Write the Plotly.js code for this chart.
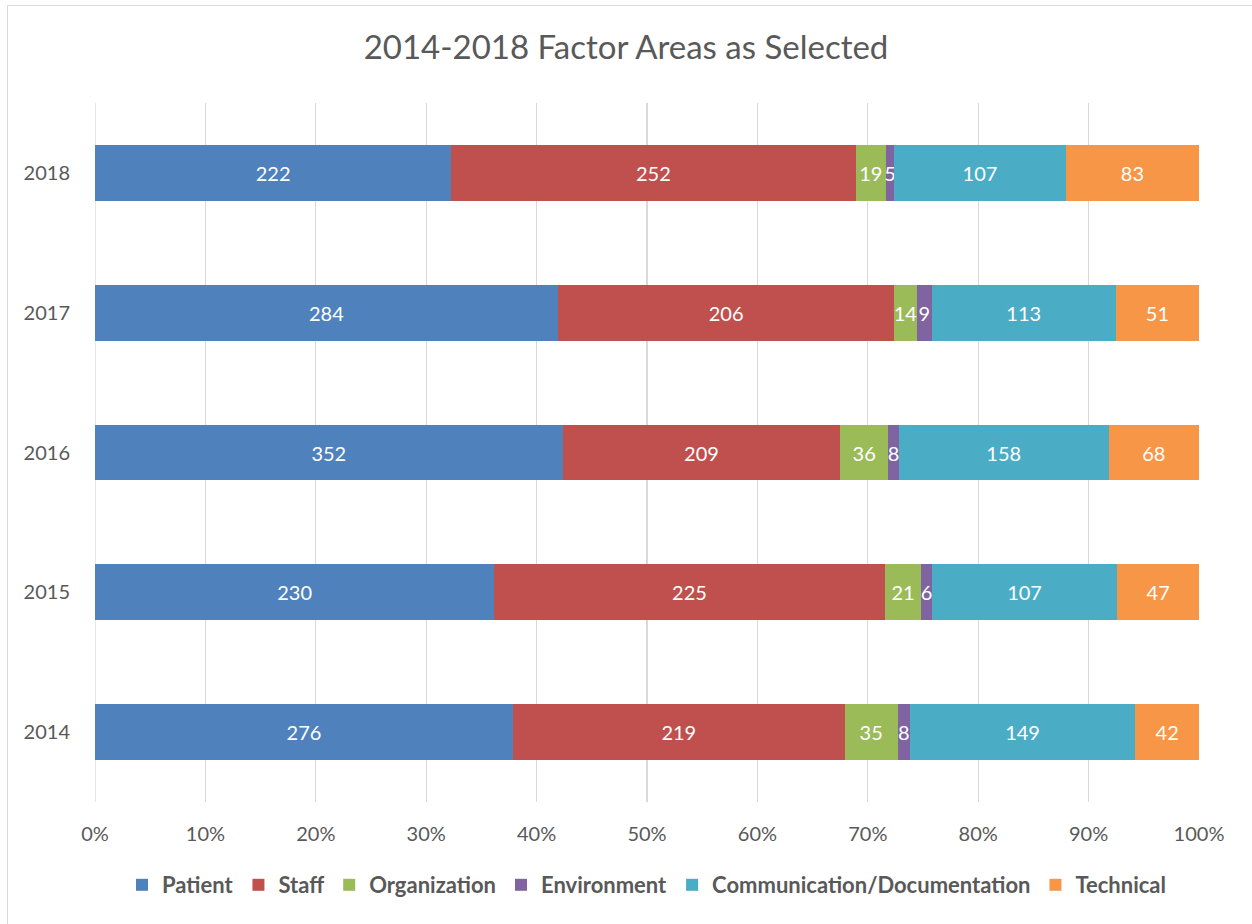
<!DOCTYPE html>
<html>
<head>
<meta charset="utf-8">
<script src="https://cdn.plot.ly/plotly-3.0.1.min.js"></script>
<style>
  html, body { margin: 0; padding: 0; background: #ffffff; }
  #wrap { position: relative; width: 1252px; height: 924px; }
  #chart { position: absolute; left: 0; top: 0; width: 1252px; height: 924px; }
  #frame { position: absolute; left: 7px; top: 5px; width: 1250px; height: 922px; border: 1px solid #D9D9D9; box-sizing: border-box; pointer-events: none; }
</style>
</head>
<body>
<div id="wrap">
  <div id="chart"></div>
  <div id="frame"></div>
</div>
<script>
const years = ['2014', '2015', '2016', '2017', '2018'];
const seriesNames = ['Patient', 'Staff', 'Organization', 'Environment', 'Communication/Documentation', 'Technical'];
const patient       = [276, 230, 352, 284, 222];
const staff         = [219, 225, 209, 206, 252];
const organization  = [35, 21, 36, 14, 19];
const environment   = [8, 6, 8, 9, 5];
const communication = [149, 107, 158, 113, 107];
const technical     = [42, 47, 68, 51, 83];
const tickVals = [0, 10, 20, 30, 40, 50, 60, 70, 80, 90, 100];
const tickText = ['0%', '10%', '20%', '30%', '40%', '50%', '60%', '70%', '80%', '90%', '100%'];

const seriesValues = [patient, staff, organization, environment, communication, technical];
const colors = ['#4F81BD', '#C0504D', '#9BBB59', '#8064A2', '#4BACC6', '#F79646'];

const traces = seriesNames.map((name, i) => ({
  type: 'bar',
  orientation: 'h',
  name: name,
  y: years,
  x: seriesValues[i],
  text: seriesValues[i].map(String),
  textposition: 'inside',
  insidetextanchor: 'middle',
  textangle: 0,
  constraintext: 'none',
  textfont: { family: 'Lato, sans-serif', size: 20, color: '#FFFFFF' },
  marker: { color: colors[i], line: { width: 0 } },
  hoverinfo: 'name+x'
}));

const layout = {
  width: 1252,
  height: 924,
  paper_bgcolor: '#FFFFFF',
  plot_bgcolor: '#FFFFFF',
  barmode: 'stack',
  barnorm: 'percent',
  bargap: 0.6,
  uniformtext: { minsize: 20, mode: 'show' },
  margin: { l: 95, r: 53, t: 103, b: 122 },
  font: { family: 'Lato, sans-serif', color: '#595959' },
  title: {
    text: '2014-2018 Factor Areas as Selected',
    font: { family: 'Lato, sans-serif', size: 33, color: '#595959' },
    x: 0.5, xanchor: 'center',
    y: 1 - 47 / 924, yanchor: 'middle'
  },
  xaxis: {
    range: [0, 100],
    tickvals: tickVals,
    ticktext: tickText,
    showgrid: true,
    gridcolor: '#D9D9D9',
    gridwidth: 1.3,
    zeroline: false,
    showline: false,
    ticks: 'outside',
    ticklen: 14,
    tickcolor: 'rgba(0,0,0,0)',
    tickfont: { family: 'Lato, sans-serif', size: 20, color: '#595959' },
    fixedrange: true
  },
  yaxis: {
    type: 'category',
    categoryorder: 'array',
    categoryarray: years,
    showgrid: false,
    zeroline: false,
    showline: false,
    ticks: 'outside',
    ticklen: 20,
    tickcolor: 'rgba(0,0,0,0)',
    tickfont: { family: 'Lato, sans-serif', size: 20, color: '#595959' },
    fixedrange: true
  },
  shapes: [{
    type: 'line', xref: 'x', yref: 'paper', x0: 0, x1: 0, y0: 0, y1: 1,
    line: { color: '#D9D9D9', width: 1.3 }, layer: 'below'
  }],
  showlegend: true,
  legend: {
    orientation: 'h',
    x: 0.5, xanchor: 'center',
    y: -83 / 699, yanchor: 'middle',
    traceorder: 'normal',
    font: { family: 'Lato, sans-serif', size: 22, color: '#595959', weight: 'bold' },
    itemwidth: 30,
    bgcolor: 'rgba(0,0,0,0)'
  }
};

Plotly.newPlot('chart', traces, layout, { displayModeBar: false, staticPlot: true });
</script>
</body>
</html>
